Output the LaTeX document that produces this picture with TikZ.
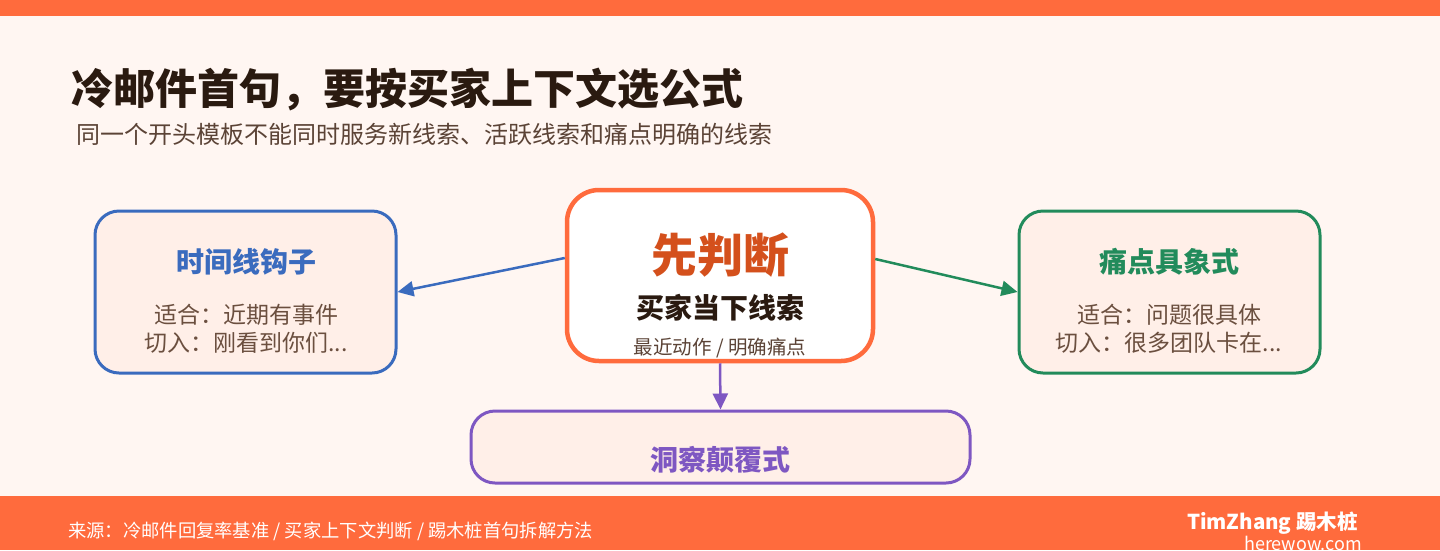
\documentclass[tikz,border=0pt]{standalone}
\usepackage{fontspec}
\setmainfont{Noto Sans CJK SC}
\usetikzlibrary{arrows.meta,calc}
\definecolor{orangebar}{HTML}{FF6B3D}
\definecolor{bgc}{HTML}{FFF6F2}
\definecolor{boxfill}{HTML}{FFEFE8}
\definecolor{blueC}{HTML}{3A6BBE}
\definecolor{greenC}{HTML}{228B5B}
\definecolor{purpleC}{HTML}{7E57C2}
\definecolor{darkT}{HTML}{2A1A10}
\definecolor{bodyT}{HTML}{6B4F3F}
\definecolor{redT}{HTML}{D4501C}
\tikzset{
  sidebox/.style={draw=#1, line width=3pt, fill=boxfill, rounded corners=24pt, inner sep=0pt},
  boxtitle/.style={text=#1, font=\fontsize{28}{33}\selectfont\bfseries, inner sep=0pt},
  bodyline/.style={text=bodyT, font=\fontsize{23}{27}\selectfont, inner sep=0pt},
  conn/.style={draw=#1, line width=2.5pt, -{Triangle[length=16pt,width=15pt]}},
}
\begin{document}
\begin{tikzpicture}[x=1pt,y=-1pt]
\useasboundingbox (0,0) rectangle (1440,550);
\fill[bgc] (0,0) rectangle (1440,550);
\fill[orangebar] (0,0) rectangle (1440,16);

\node[anchor=west, inner sep=0pt, text=darkT, font=\fontsize{42}{50}\selectfont\bfseries] (title) at (71,90) {冷邮件首句，要按买家上下文选公式};
\node[anchor=west, inner sep=0pt, text=bodyT!85!black, font=\fontsize{24}{28}\selectfont] (sub) at (76,134) {同一个开头模板不能同时服务新线索、活跃线索和痛点明确的线索};

% boxes
\node[sidebox=blueC, minimum width=301pt, minimum height=162pt] (l) at (245.5,292) {};
\node[sidebox=greenC, minimum width=301pt, minimum height=162pt] (r) at (1169.5,292) {};
\node[sidebox=purpleC, minimum width=499pt, minimum height=72pt] (b) at (720.5,447) {};
\node[draw=orangebar, line width=4.5pt, fill=white, rounded corners=32pt, inner sep=0pt, minimum width=306pt, minimum height=171pt] (c) at (720,275.5) {};

% connectors
\draw[conn=blueC] ($(c.west)+(0,-17.5)$) -- (l.east);
\draw[conn=greenC] ($(c.east)+(0,-16.5)$) -- (r.west);
\draw[conn=purpleC] (c.south) -- (b.north);

% texts
\node[boxtitle=blueC] (lt) at (246,262) {时间线钩子};
\node[bodyline] (l1) at (246,315) {适合：近期有事件};
\node[bodyline] (l2) at (246,343) {切入：刚看到你们...};

\node[boxtitle=greenC] (rt) at (1169,262) {痛点具象式};
\node[bodyline] (r1) at (1169,315) {适合：问题很具体};
\node[bodyline] (r2) at (1169,343) {切入：很多团队卡在...};

\node[text=redT, font=\fontsize{46}{54}\selectfont\bfseries, inner sep=0pt] (ct) at (720,255) {先判断};
\node[text=darkT, font=\fontsize{28}{33}\selectfont\bfseries, inner sep=0pt] (c1) at (720,308) {买家当下线索};
\node[text=bodyT!85!black, font=\fontsize{19.5}{23}\selectfont, inner sep=0pt] (c2) at (720,348) {最近动作 / 明确痛点};

\node[boxtitle=purpleC] (bt) at (720,460) {洞察颠覆式};

% footer
\fill[orangebar] (0,496) rectangle (1440,550);
\node[anchor=west, inner sep=0pt, text=white, font=\fontsize{18.3}{22}\selectfont] (src) at (68,531) {来源：冷邮件回复率基准 / 买家上下文判断 / 踢木桩首句拆解方法};
\node[anchor=east, inner sep=0pt, text=white, font=\fontsize{20.5}{24}\selectfont\bfseries] (brand) at (1358,523) {TimZhang 踢木桩};
\node[anchor=east, inner sep=0pt, text=white, font=\fontsize{18}{22}\selectfont] (url) at (1362,543) {herewow.com};
\end{tikzpicture}
\end{document}
